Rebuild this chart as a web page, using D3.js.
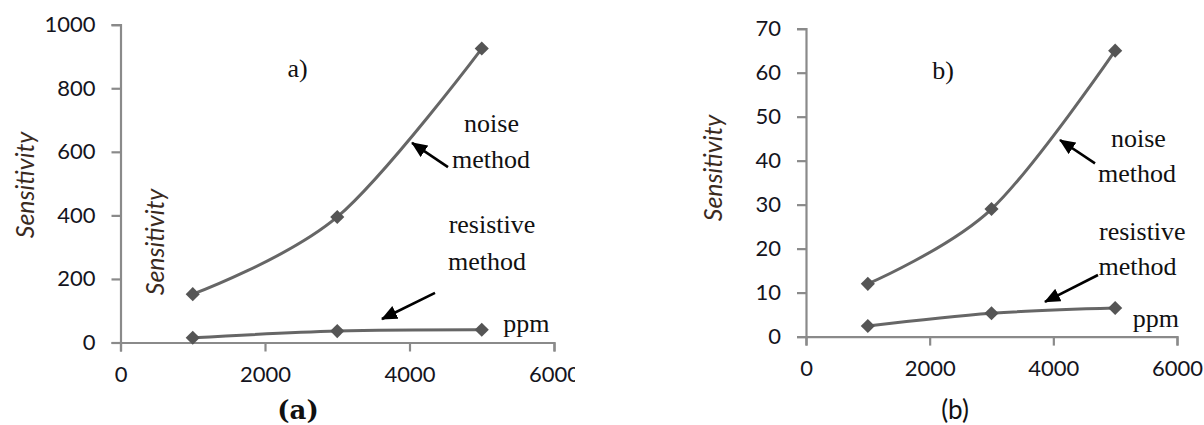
<!DOCTYPE html>
<html>
<head>
<meta charset="utf-8">
<script src="https://cdn.jsdelivr.net/npm/d3@7"></script>
<style>
  body { margin: 0; background: #fff; }
  svg { display: block; }
  .tick text { font-family: Lato, "Open Sans", sans-serif; font-size: 22px; fill: #141420; }
  .ann { font-family: "Liberation Serif", "Times New Roman", serif; font-size: 26px; fill: #111; }
  .ylab { font-family: Lato, sans-serif; font-style: italic; font-size: 25px; fill: #3a2a1e; }
</style>
</head>
<body>
<div id="chart"></div>
<script>
// concentration (ppm) and sensitivities
var ppm = [1000, 3000, 5000];
var noiseA = [152, 395, 925];
var resistiveA = [15, 36, 40];
var noiseB = [12, 29, 65];
var resistiveB = [2.4, 5.3, 6.5];

var xTicks = [0, 2000, 4000, 6000];
var yTicksA = [0, 200, 400, 600, 800, 1000];
var yTicksB = [0, 10, 20, 30, 40, 50, 60, 70];

// text notes, in data units of each panel
var notesA = [
  {t: "a)", x: 2452, y: 835},
  {t: "noise", x: 5135, y: 662},
  {t: "method", x: 5128, y: 549},
  {t: "resistive", x: 5142, y: 345},
  {t: "method", x: 5073, y: 228},
  {t: "ppm", x: 5619, y: 33}
];
var notesB = [
  {t: "b)", x: 2216, y: 58.5},
  {t: "noise", x: 5377, y: 43.1},
  {t: "method", x: 5353, y: 35.1},
  {t: "resistive", x: 5439, y: 22},
  {t: "method", x: 5361, y: 14},
  {t: "ppm", x: 5660, y: 2.2}
];
var arrowsA = [
  {x1: 4533, y1: 552, x2: 4035, y2: 628},
  {x1: 4353, y1: 156, x2: 3619, y2: 74}
];
var arrowsB = [
  {x1: 4674, y1: 39.4, x2: 4108, y2: 44.7},
  {x1: 4722, y1: 14, x2: 3865, y2: 7.9}
];

var width = 1204, height = 425;
var lineColor = "#666";
var markColor = "#555";
var axisColor = "#8a8a8a";

var svg = d3.select("#chart").append("svg")
  .attr("width", width)
  .attr("height", height);

var defs = svg.append("defs");
defs.append("marker")
  .attr("id", "head")
  .attr("markerUnits", "userSpaceOnUse")
  .attr("markerWidth", 16)
  .attr("markerHeight", 14)
  .attr("refX", 15)
  .attr("refY", 7)
  .attr("orient", "auto")
  .append("path")
  .attr("d", "M0,0 L16,7 L0,14 Z")
  .attr("fill", "#000");

defs.append("clipPath").attr("id", "clipA")
  .append("rect").attr("x", 0).attr("y", 0).attr("width", 575).attr("height", height);

var diamond = d3.symbol(d3.symbolSquare, 100);

function panel(opts) {
  var g = svg.append("g");
  if (opts.clip) g.attr("clip-path", "url(#" + opts.clip + ")");

  var x = d3.scaleLinear().domain([0, 6000]).range(opts.xr);
  var y = d3.scaleLinear().domain(opts.yd).range(opts.yr);

  var xAxis = g.append("g")
    .attr("transform", "translate(0," + opts.yr[0] + ")")
    .call(d3.axisBottom(x).tickValues(xTicks).tickSize(9).tickPadding(15).tickFormat(d3.format("d")));
  var yAxis = g.append("g")
    .attr("transform", "translate(" + opts.xr[0] + ",0)")
    .call(d3.axisLeft(y).tickValues(opts.yTicks).tickSize(9).tickPadding(16).tickFormat(d3.format("d")));
  [xAxis, yAxis].forEach(function(a) {
    a.select(".domain").attr("stroke", axisColor).attr("stroke-width", 2.2);
    a.selectAll(".tick line").attr("stroke", axisColor).attr("stroke-width", 2.2);
  });

  var line = d3.line()
    .x(function(d) { return x(d[0]); })
    .y(function(d) { return y(d[1]); })
    .curve(d3.curveCatmullRom.alpha(0));

  opts.series.forEach(function(vals) {
    var pts = ppm.map(function(p, i) { return [p, vals[i]]; });
    g.append("path")
      .attr("d", line(pts))
      .attr("fill", "none")
      .attr("stroke", lineColor)
      .attr("stroke-width", 3);
    g.selectAll(null)
      .data(pts)
      .enter()
      .append("path")
      .attr("d", diamond)
      .attr("fill", markColor)
      .attr("transform", function(d) { return "translate(" + x(d[0]) + "," + y(d[1]) + ") rotate(45)"; });
  });

  g.selectAll(null)
    .data(opts.arrows)
    .enter()
    .append("line")
    .attr("x1", function(d) { return x(d.x1); })
    .attr("y1", function(d) { return y(d.y1); })
    .attr("x2", function(d) { return x(d.x2); })
    .attr("y2", function(d) { return y(d.y2); })
    .attr("stroke", "#000")
    .attr("stroke-width", 2.6)
    .attr("marker-end", "url(#head)");

  g.selectAll(null)
    .data(opts.notes)
    .enter()
    .append("text")
    .attr("class", "ann")
    .attr("text-anchor", "middle")
    .attr("x", function(d) { return x(d.x); })
    .attr("y", function(d) { return y(d.y); })
    .text(function(d) { return d.t; });

  opts.ylabels.forEach(function(p) {
    g.append("text")
      .attr("class", "ylab")
      .attr("text-anchor", "middle")
      .attr("dominant-baseline", "central")
      .attr("transform", "translate(" + p[0] + "," + p[1] + ") rotate(-90)")
      .text("Sensitivity");
  });

  g.append("text")
    .attr("x", opts.cap[0])
    .attr("y", opts.cap[1])
    .attr("text-anchor", "middle")
    .attr("font-family", opts.capFont)
    .attr("font-weight", opts.capWeight)
    .attr("font-size", 26)
    .attr("fill", "#111")
    .text(opts.capText);
}

panel({
  clip: "clipA",
  xr: [120.5, 554], yd: [0, 1000], yr: [342.5, 24.7],
  yTicks: yTicksA,
  series: [noiseA, resistiveA],
  notes: notesA, arrows: arrowsA,
  ylabels: [[24, 185], [154, 242]],
  cap: [298, 419], capText: "(a)", capFont: "'DejaVu Serif', serif", capWeight: "bold"
});

panel({
  xr: [806, 1177], yd: [0, 70], yr: [336.6, 28.7],
  yTicks: yTicksB,
  series: [noiseB, resistiveB],
  notes: notesB, arrows: arrowsB,
  ylabels: [[712, 168]],
  cap: [955, 419], capText: "(b)", capFont: "Lato, sans-serif", capWeight: "normal"
});
</script>
</body>
</html>
